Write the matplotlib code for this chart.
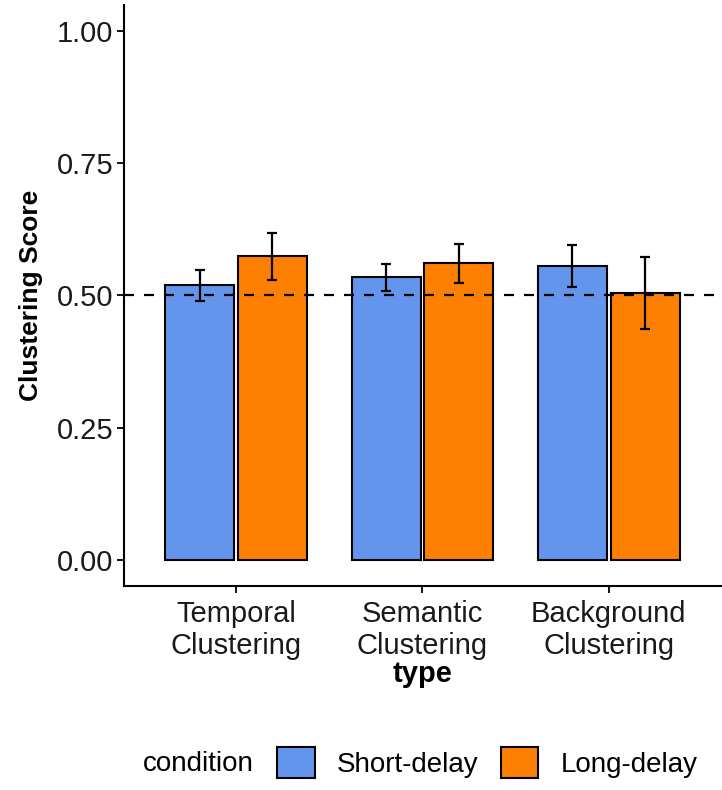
import numpy as np
import matplotlib.pyplot as plt
from matplotlib.patches import Patch

plt.rcParams['font.family'] = ['Liberation Sans', 'DejaVu Sans']

types = ["Temporal\nClustering", "Semantic\nClustering", "Background\nClustering"]
conditions = ["Short-delay", "Long-delay"]
short_mean = [0.519, 0.534, 0.556]
short_err = [0.029, 0.025, 0.040]
long_mean = [0.574, 0.561, 0.504]
long_err = [0.045, 0.037, 0.068]
colors = ["#6495ED", "#FF7F00"]

fig = plt.figure(figsize=(7.22, 7.90), dpi=100)
ax = fig.add_axes([0.172, 0.258, 0.826, 0.736])

x = np.arange(1, len(types) + 1)
w = 0.37
off = 0.195
for means, errs, col, sgn in [(short_mean, short_err, colors[0], -1),
                              (long_mean, long_err, colors[1], 1)]:
    ax.bar(x + sgn * off, means, width=w, color=col, edgecolor='black',
           linewidth=1.5, zorder=2)
    ax.errorbar(x + sgn * off, means, yerr=errs, fmt='none', ecolor='black',
                elinewidth=1.6, capsize=3.5, capthick=1.6, zorder=4)

ax.axhline(0.5, color='black', lw=1.6, linestyle=(0, (4.5, 4.5)), zorder=3)

ax.set_xlim(0.4, 3.6)
ax.set_ylim(-0.05, 1.05)
ax.set_yticks([0, 0.25, 0.5, 0.75, 1.0])
ax.set_yticklabels(["0.00", "0.25", "0.50", "0.75", "1.00"])
ax.set_xticks(x)
ax.set_xticklabels(types, linespacing=1.2)
ax.tick_params(labelsize=21, length=5, width=1.3, color='black',
               labelcolor='#1a1a1a', pad=3)
ax.tick_params(axis='x', pad=5)
for s in ['top', 'right']:
    ax.spines[s].set_visible(False)
for s in ['left', 'bottom']:
    ax.spines[s].set_linewidth(1.5)

ax.set_ylabel("Clustering Score", fontsize=19, fontweight='bold', labelpad=10)
ax.set_xlabel("type", fontsize=21, fontweight='bold', labelpad=0)

handles = [Patch(facecolor=c, edgecolor='black', linewidth=1.5) for c in colors]
fig.text(0.198, 0.0325, "condition", fontsize=20, va='center', ha='left')
fig.legend(handles, conditions, loc='center', bbox_to_anchor=(0.675, 0.035),
           ncol=2, frameon=False, fontsize=20, handlelength=1.35,
           handleheight=1.35, handletextpad=0.8, columnspacing=0.8)

fig.savefig("out.png", dpi=100)
